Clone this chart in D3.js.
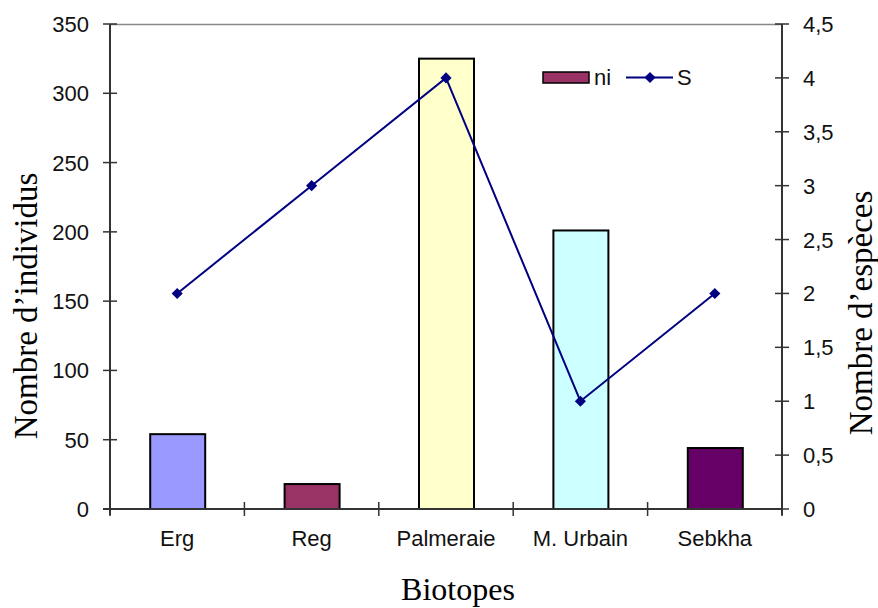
<!DOCTYPE html>
<html>
<head>
<meta charset="utf-8">
<script src="https://cdn.jsdelivr.net/npm/d3@7"></script>
<style>
  html, body { margin: 0; padding: 0; background: #fff; }
  svg { display: block; }
</style>
</head>
<body>
<svg id="chart" width="878" height="608"></svg>
<script>
// Biotopes surveyed, number of individuals (ni) and number of species (S)
const biotopes = ["Erg", "Reg", "Palmeraie", "M. Urbain", "Sebkha"];
const ni = [54, 18, 325, 201, 44];
const S = [2, 3, 4, 1, 2];
const barColors = ["#9999FF", "#993366", "#FFFFCC", "#CCFFFF", "#660066"];
const leftTicks = [0, 50, 100, 150, 200, 250, 300, 350];
const rightTicks = [0, 0.5, 1, 1.5, 2, 2.5, 3, 3.5, 4, 4.5];

const svg = d3.select("#chart");
const m = { left: 110, right: 782, top: 24, bottom: 509 };

const x = d3.scaleBand().domain(biotopes).range([m.left, m.right]).paddingInner(0).paddingOuter(0);
const yL = d3.scaleLinear().domain([0, 350]).range([m.bottom, m.top]);
const yR = d3.scaleLinear().domain([0, 4.5]).range([m.bottom, m.top]);

const axisColor = "#333";
const tickFont = "Arial, 'Liberation Sans', sans-serif";
const tickSize = 22;
const fmt = d => String(d).replace(".", ",");

// top border of the plot area
svg.append("line")
  .attr("x1", m.left).attr("x2", m.right)
  .attr("y1", m.top + 0.5).attr("y2", m.top + 0.5)
  .attr("stroke", "#888").attr("stroke-width", 1.5);

// bars
const bw = 55;
svg.append("g").selectAll("rect")
  .data(biotopes)
  .join("rect")
  .attr("x", d => x(d) + x.bandwidth() / 2 - bw / 2 + 0.5)
  .attr("y", (d, i) => yL(ni[i]))
  .attr("width", bw)
  .attr("height", (d, i) => m.bottom - yL(ni[i]))
  .attr("fill", (d, i) => barColors[i])
  .attr("stroke", "#000")
  .attr("stroke-width", 2);

// left axis
const gL = svg.append("g").attr("transform", `translate(${m.left},0)`);
gL.append("line").attr("x1", 0).attr("x2", 0).attr("y1", m.top).attr("y2", m.bottom + 6)
  .attr("stroke", axisColor).attr("stroke-width", 2);
gL.selectAll(".t").data(leftTicks).join("line")
  .attr("x1", -7).attr("x2", 7)
  .attr("y1", d => yL(d)).attr("y2", d => yL(d))
  .attr("stroke", axisColor).attr("stroke-width", 1.5);
gL.selectAll("text").data(leftTicks).join("text")
  .attr("x", -21).attr("y", d => yL(d) + 8)
  .attr("text-anchor", "end")
  .attr("font-family", tickFont).attr("font-size", tickSize).attr("fill", "#111")
  .text(d => d);

// right axis
const gR = svg.append("g").attr("transform", `translate(${m.right},0)`);
gR.append("line").attr("x1", 0).attr("x2", 0).attr("y1", m.top).attr("y2", m.bottom + 6)
  .attr("stroke", axisColor).attr("stroke-width", 2);
gR.selectAll(".t").data(rightTicks).join("line")
  .attr("x1", -7).attr("x2", 7)
  .attr("y1", d => yR(d)).attr("y2", d => yR(d))
  .attr("stroke", axisColor).attr("stroke-width", 1.5);
gR.selectAll("text").data(rightTicks).join("text")
  .attr("x", 21).attr("y", d => yR(d) + 8)
  .attr("text-anchor", "start")
  .attr("font-family", tickFont).attr("font-size", tickSize).attr("fill", "#111")
  .text(fmt);

// bottom axis
const gB = svg.append("g");
gB.append("line").attr("x1", m.left - 7).attr("x2", m.right)
  .attr("y1", m.bottom).attr("y2", m.bottom)
  .attr("stroke", axisColor).attr("stroke-width", 2);
const bounds = biotopes.map(d => x(d)).concat([m.right]);
gB.selectAll(".t").data(bounds).join("line")
  .attr("x1", d => d).attr("x2", d => d)
  .attr("y1", m.bottom - 7).attr("y2", m.bottom + 7)
  .attr("stroke", axisColor).attr("stroke-width", 1.5);
gB.selectAll("text").data(biotopes).join("text")
  .attr("x", d => x(d) + x.bandwidth() / 2)
  .attr("y", 546)
  .attr("text-anchor", "middle")
  .attr("font-family", tickFont).attr("font-size", tickSize).attr("fill", "#111")
  .text(d => d);

// species line
const navy = "#000080";
const lineGen = d3.line()
  .x((d, i) => x(biotopes[i]) + x.bandwidth() / 2)
  .y(d => yR(d));
svg.append("path").datum(S)
  .attr("d", lineGen)
  .attr("fill", "none").attr("stroke", navy).attr("stroke-width", 2);
const marker = d3.symbol().type(d3.symbolSquare).size(62);
svg.append("g").selectAll("path").data(S).join("path")
  .attr("transform", (d, i) => `translate(${x(biotopes[i]) + x.bandwidth() / 2},${yR(d)}) rotate(45)`)
  .attr("d", marker)
  .attr("fill", navy);

// legend
const lg = svg.append("g");
lg.append("rect").attr("x", 543).attr("y", 72).attr("width", 46).attr("height", 11)
  .attr("fill", "#993366").attr("stroke", "#000").attr("stroke-width", 1.5);
lg.append("text").attr("x", 594).attr("y", 85)
  .attr("font-family", tickFont).attr("font-size", tickSize).attr("fill", "#111").text("ni");
lg.append("line").attr("x1", 626).attr("x2", 673).attr("y1", 77.5).attr("y2", 77.5)
  .attr("stroke", navy).attr("stroke-width", 2);
lg.append("path").attr("transform", "translate(650,77.5) rotate(45)").attr("d", marker).attr("fill", navy);
lg.append("text").attr("x", 677).attr("y", 85)
  .attr("font-family", tickFont).attr("font-size", tickSize).attr("fill", "#111").text("S");

// axis titles
const serif = "'Times New Roman', 'Liberation Serif', serif";
const titleSize = 33;
svg.append("text")
  .attr("transform", "translate(37,306) rotate(-90)")
  .attr("text-anchor", "middle")
  .attr("font-family", serif).attr("font-size", titleSize).attr("fill", "#000")
  .text("Nombre d’individus");
svg.append("text")
  .attr("transform", "translate(872,313) rotate(-90)")
  .attr("text-anchor", "middle")
  .attr("font-family", serif).attr("font-size", titleSize).attr("fill", "#000")
  .text("Nombre d’espèces");
svg.append("text")
  .attr("x", 458).attr("y", 600)
  .attr("text-anchor", "middle")
  .attr("font-family", serif).attr("font-size", 32).attr("fill", "#000")
  .text("Biotopes");
</script>
</body>
</html>
